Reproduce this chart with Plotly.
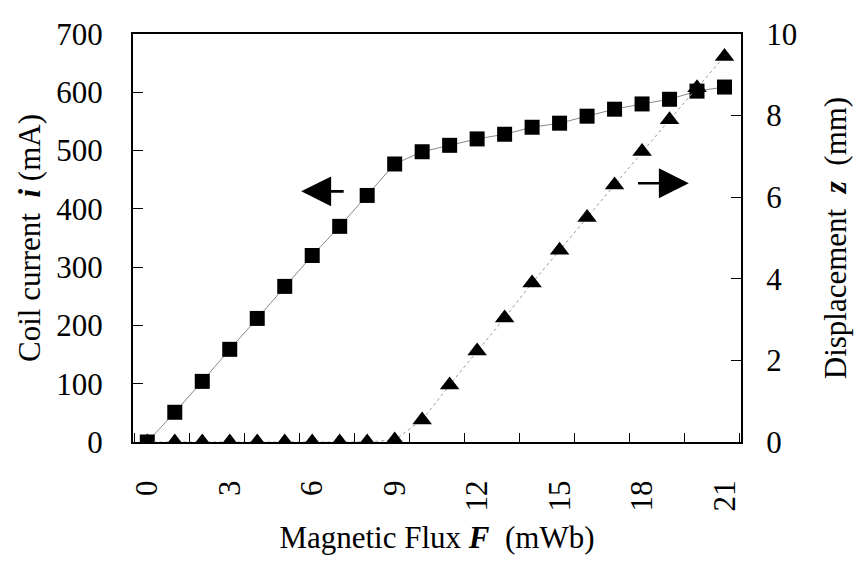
import plotly.graph_objects as go

flux = list(range(22))
current = [0, 51, 104, 159, 212, 267, 320, 370, 423, 477, 498, 509, 520, 528, 540, 547, 559, 571, 580, 588, 602, 609]
displacement = [0, 0, 0, 0, 0, 0, 0, 0, 0, 0.05, 0.54, 1.40, 2.23, 3.04, 3.9, 4.7, 5.5, 6.3, 7.12, 7.9, 8.68, 9.45]

x_ticks = [0, 3, 6, 9, 12, 15, 18, 21]
left_ticks = [0, 100, 200, 300, 400, 500, 600, 700]
right_ticks = [0, 2, 4, 6, 8, 10]

FONT = "Liberation Serif, Times New Roman, serif"
NB = "\u00a0"

fig = go.Figure()
fig.add_trace(go.Scatter(
    x=flux, y=current, mode="lines+markers",
    marker=dict(symbol="square", size=15, color="black"),
    line=dict(color="#888888", width=1),
    yaxis="y", showlegend=False))
fig.add_trace(go.Scatter(
    x=flux, y=displacement, mode="lines+markers",
    marker=dict(symbol="triangle-up", size=17, color="black"),
    line=dict(color="#999999", width=1, dash="dot"),
    yaxis="y2", showlegend=False))

fig.update_layout(
    width=859, height=562,
    margin=dict(l=133, r=115, t=34, b=120),
    paper_bgcolor="white", plot_bgcolor="white",
    font=dict(family=FONT, size=31, color="black"),
    xaxis=dict(
        range=[-0.52, 21.6], tickvals=x_ticks, ticktext=[str(v) for v in x_ticks],
        tickangle=-90, ticks="", ticklabelstandoff=24,
        showline=True, linecolor="black", linewidth=2, mirror=True,
        showgrid=False, zeroline=False,
        minor=dict(tick0=1.55, dtick=2, ticks="inside", ticklen=9, tickcolor="black", tickwidth=1, showgrid=False),
        title=dict(text="Magnetic Flux" + NB + "<b><i>F</i></b>" + NB + NB + "(mWb)", standoff=16,
                   font=dict(size=31)),
    ),
    yaxis=dict(
        range=[0, 700], tickvals=left_ticks, ticks="inside", ticklen=10, tickcolor="black",
        ticklabelstandoff=22,
        showline=True, linecolor="black", linewidth=2, mirror=False,
        showgrid=False, zeroline=False,
        title=dict(text="Coil current" + NB + NB + "<b><i>i</i></b>" + NB + "(mA)", standoff=6,
                   font=dict(size=31)),
    ),
    yaxis2=dict(
        range=[0, 10], tickvals=right_ticks, overlaying="y", side="right",
        ticks="inside", ticklen=10, tickcolor="black", ticklabelstandoff=17,
        showline=True, linecolor="black", linewidth=2,
        showgrid=False, zeroline=False,
        title=dict(text="Displacement" + NB + NB + "<b><i>z</i></b>" + NB + NB + "(mm)", standoff=28,
                   font=dict(size=31)),
    ),
    annotations=[
        dict(x=5.6, y=430, ax=7.2, ay=430, xref="x", yref="y", axref="x", ayref="y",
             text="", showarrow=True, arrowhead=2, arrowsize=2.3, arrowwidth=2.6, arrowcolor="black", standoff=0),
        dict(x=19.7, y=444, ax=17.8, ay=444, xref="x", yref="y", axref="x", ayref="y",
             text="", showarrow=True, arrowhead=2, arrowsize=2.3, arrowwidth=2.6, arrowcolor="black", standoff=0),
    ],
)

fig.write_html("out.html")
